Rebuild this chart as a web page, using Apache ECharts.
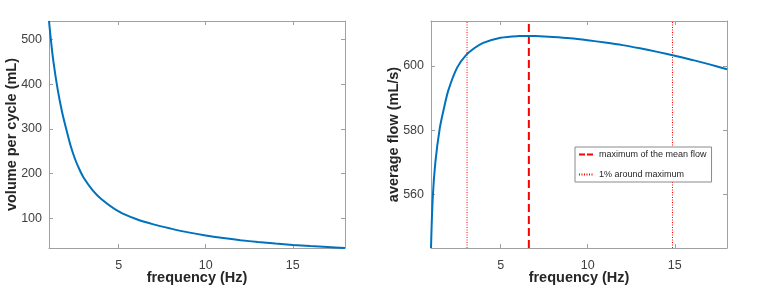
<!DOCTYPE html>
<html>
<head>
<meta charset="utf-8">
<script src="https://cdn.jsdelivr.net/npm/echarts@6/dist/echarts.min.js"></script>
<style>html,body{margin:0;padding:0;background:#fff;}#c{width:763px;height:286px;}</style>
</head>
<body>
<div id="c"></div>
<script>
// ---- data ----
const volFreq = [1, 1.1, 1.25, 1.5, 1.75, 2, 2.25, 2.5, 2.75, 3, 3.5, 4, 5, 6, 7, 8, 9, 10, 11, 12, 13, 14, 15, 16, 17, 18];
const volumeValues = [542, 503, 452, 388, 338, 298, 261, 232, 209, 190, 163, 143, 115, 98, 86, 76.5, 68, 61, 55.3, 50.5, 46.5, 43, 40, 37.5, 35.2, 33];
const flowFreq = [1, 1.1, 1.25, 1.5, 1.75, 2, 2.5, 3, 3.5, 4, 5, 6, 6.6, 7, 8, 9, 10, 11, 12, 13, 14, 15, 16, 17, 18];
const flowValues = [543.4, 559, 570, 580.5, 587, 592.5, 599.5, 603.3, 605.6, 607.2, 608.8, 609.3, 609.35, 609.3, 609, 608.6, 608, 607.3, 606.5, 605.5, 604.4, 603.2, 601.9, 600.5, 599];
const maxFlowFreq = 6.62;
const bandFreqs = [3.07, 14.87];
const xRange = [1, 18];
const volumeRange = [33, 542];
const flowRange = [543.4, 614];
const xTicks = [5, 10, 15];
const volumeTicks = [100, 200, 300, 400, 500];
const flowTicks = [560, 580, 600];
const xTitle = 'frequency (Hz)';
const volumeTitle = 'volume per cycle (mL)';
const flowTitle = 'average flow (mL/s)';
const legendMax = 'maximum of the mean flow';
const legendBand = '1% around maximum';

// ---- chart ----
const FONT = 'Liberation Sans, Arial, Helvetica, sans-serif';
const BOX = '#a0a0a0';
const LABEL = '#404040';
const TITLE = '#262626';
const RED = '#ff0000';

function pairs(xs, ys) { return xs.map((x, i) => [x, ys[i]]); }

function xAx(grid, pos, showLabel) {
  return {
    type: 'value', gridIndex: grid, position: pos, min: xRange[0], max: xRange[1],
    name: showLabel ? xTitle : '', nameLocation: 'middle', nameGap: 22, nameMoveOverlap: false,
    nameTextStyle: { fontFamily: FONT, fontSize: 14.5, fontWeight: 'bold', color: TITLE },
    axisLine: { show: true, onZero: false, lineStyle: { color: BOX, width: 1 } },
    axisTick: { show: true, inside: true, length: 4, customValues: xTicks, lineStyle: { color: BOX } },
    axisLabel: { show: showLabel, customValues: xTicks, fontFamily: FONT, fontSize: 12.5, color: LABEL, margin: 11 },
    splitLine: { show: false }
  };
}
function yAx(grid, pos, range, ticks, title, showLabel) {
  return {
    type: 'value', gridIndex: grid, position: pos, min: range[0], max: range[1],
    name: showLabel ? title : '', nameLocation: 'middle', nameGap: 30, nameRotate: 90, nameMoveOverlap: false,
    nameTextStyle: { fontFamily: FONT, fontSize: 14.5, fontWeight: 'bold', color: TITLE },
    axisLine: { show: true, onZero: false, lineStyle: { color: BOX, width: 1 } },
    axisTick: { show: true, inside: true, length: 4, customValues: ticks, lineStyle: { color: BOX } },
    axisLabel: { show: showLabel, customValues: ticks, fontFamily: FONT, fontSize: 12.5, color: LABEL, margin: 7 },
    splitLine: { show: false }
  };
}

const option = {
  animation: false,
  backgroundColor: '#fff',
  grid: [
    { left: 49, top: 21, width: 296, height: 227, containLabel: false, outerBoundsMode: 'none' },
    { left: 431, top: 21, width: 296, height: 227, containLabel: false, outerBoundsMode: 'none' }
  ],
  xAxis: [xAx(0, 'bottom', true), xAx(0, 'top', false), xAx(1, 'bottom', true), xAx(1, 'top', false)],
  yAxis: [
    yAx(0, 'left', volumeRange, volumeTicks, volumeTitle, true),
    yAx(0, 'right', volumeRange, volumeTicks, '', false),
    yAx(1, 'left', flowRange, flowTicks, flowTitle, true),
    yAx(1, 'right', flowRange, flowTicks, '', false)
  ],
  legend: {
    left: 575, top: 147, orient: 'vertical',
    data: [
      { name: legendMax, lineStyle: { color: RED, type: [6, 2], width: 2 } },
      { name: legendBand }
    ],
    itemWidth: 15, itemHeight: 10, itemGap: 9,
    itemStyle: { opacity: 0 },
    padding: [2, 5, 2, 3],
    borderColor: '#8a8a8a', borderWidth: 1, backgroundColor: '#fff',
    textStyle: { fontFamily: FONT, fontSize: 9, color: TITLE, lineHeight: 11 }
  },
  series: [
    {
      type: 'line', xAxisIndex: 0, yAxisIndex: 0, data: pairs(volFreq, volumeValues),
      smooth: 0.3, symbol: 'none',
      lineStyle: { color: '#0072BD', width: 2 }, z: 3
    },
    {
      type: 'line', xAxisIndex: 2, yAxisIndex: 2, data: pairs(flowFreq, flowValues),
      smooth: 0.3, symbol: 'none',
      lineStyle: { color: '#0072BD', width: 2 }, z: 3
    },
    {
      name: legendMax, type: 'line', xAxisIndex: 2, yAxisIndex: 2,
      data: [[maxFlowFreq, flowRange[0]], [maxFlowFreq, flowRange[1]]],
      symbol: 'none', color: RED,
      lineStyle: { color: RED, width: 2, type: [8, 4] }, z: 2
    },
    {
      name: legendBand, type: 'line', xAxisIndex: 2, yAxisIndex: 2,
      data: [[bandFreqs[0], flowRange[0]], [bandFreqs[0], flowRange[1]]],
      symbol: 'none', color: RED,
      lineStyle: { color: RED, width: 1, type: [1, 1.5] }, z: 2
    },
    {
      name: legendBand, type: 'line', xAxisIndex: 2, yAxisIndex: 2,
      data: [[bandFreqs[1], flowRange[0]], [bandFreqs[1], flowRange[1]]],
      symbol: 'none', color: RED,
      lineStyle: { color: RED, width: 1, type: [1, 1.5] }, z: 2
    }
  ]
};

const chart = echarts.init(document.getElementById('c'), null, { renderer: 'canvas' });
chart.setOption(option);
</script>
</body>
</html>
